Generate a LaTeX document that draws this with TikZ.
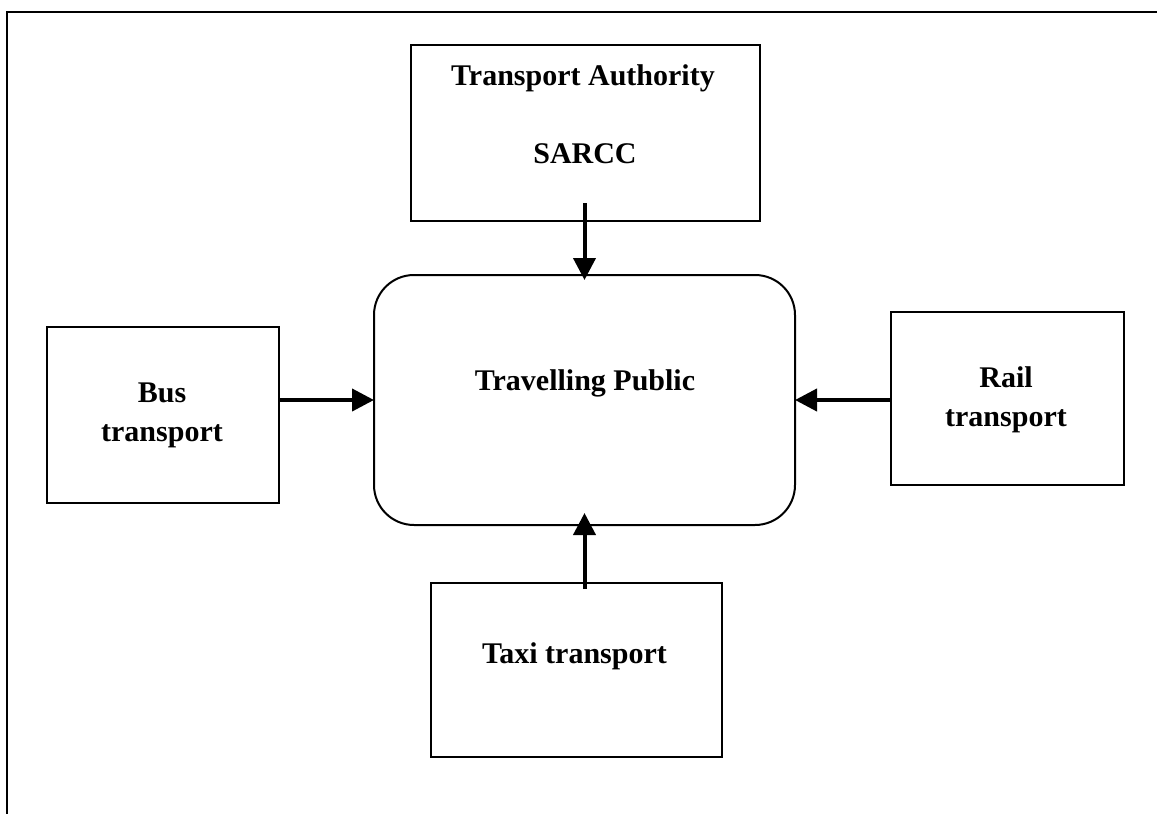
\documentclass[tikz,border=0pt]{standalone}
\usepackage{fontspec}
\setmainfont{Liberation Serif}
\usetikzlibrary{arrows.meta}
\tikzset{
  boxnode/.style={draw, line width=2pt, rectangle, inner sep=0pt, outer sep=0pt},
  pubnode/.style={boxnode, rounded corners=40pt},
  txt/.style={font=\fontsize{30pt}{39pt}\selectfont\bfseries, inner sep=0pt, align=center},
  arr/.style={line width=4pt, -{Triangle[length=22pt,width=22pt]}},
  frame/.style={line width=2pt}
}
\begin{document}
\begin{tikzpicture}[x=1pt,y=-1pt]
\useasboundingbox (0,0) rectangle (1157,814);
\draw[frame] (7,814) -- (7,12) -- (1160,12);

\node[boxnode, minimum width=349pt, minimum height=176pt] (top) at (585.5,133) {};
\node[pubnode, minimum width=421pt, minimum height=250pt] (pub) at (584.5,400) {};
\node[boxnode, minimum width=232pt, minimum height=176pt] (bus) at (163,415) {};
\node[boxnode, minimum width=233pt, minimum height=173pt] (rail) at (1007.5,398.5) {};
\node[boxnode, minimum width=291pt, minimum height=174pt] (taxi) at (576.5,670) {};

\node[txt, anchor=base] (toptxta) at (583,85) {Transport Authority};
\node[txt, anchor=base] (toptxtb) at (585,163) {SARCC};
\node[txt, anchor=base] (pubtxt) at (585,390) {Travelling Public};
\node[txt] (bustxt) at (162,415) {Bus\\transport};
\node[txt] (railtxt) at (1006,400) {Rail\\transport};
\node[txt, anchor=base] (taxitxt) at (574.5,663) {Taxi transport};

\draw[arr] ([yshift=18pt]top.south -| pub.north) -- ([yshift=-5pt]pub.north);
\draw[arr] (bus.east |- pub.west) -- (pub.west);
\draw[arr] (rail.west |- pub.east) -- (pub.east);
\draw[arr] ([yshift=-6pt]taxi.north -| pub.south) -- ([yshift=12pt]pub.south);
\end{tikzpicture}
\end{document}
